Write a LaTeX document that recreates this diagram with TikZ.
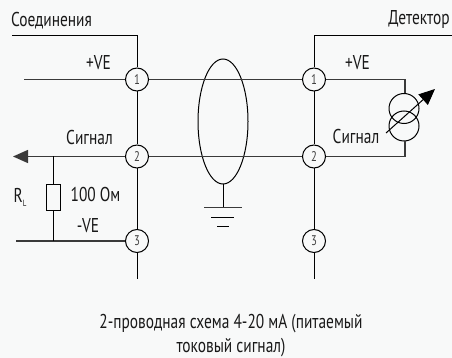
\documentclass[tikz,border=0pt]{standalone}
\usepackage{fontspec}
\usepackage{xcolor}
\setmainfont[FakeStretch=0.77]{PT Sans}
\usetikzlibrary{shapes.geometric,arrows.meta,positioning}
\definecolor{bgpage}{HTML}{F8F9F9}
\definecolor{wirecol}{HTML}{3A3A3A}

\begin{document}
\begin{tikzpicture}[
    x=1pt, y=-1pt,
    wire/.style={draw=wirecol, line width=1.4pt},
    thinwire/.style={draw=black, line width=1pt},
    term/.style={circle, draw=black, line width=1pt, fill=bgpage, minimum size=23pt, inner sep=0pt, font=\fontsize{14}{14}\selectfont, text=black!75},
    lab/.style={inner sep=0pt, font=\fontsize{20}{20}\selectfont, text=black!90},
    sensor/.style={circle, draw=black, line width=1pt, minimum size=30pt, inner sep=0pt},
    outarrow/.style={-{Triangle[length=15pt,width=13pt]}, wire}
]
\path[fill=bgpage] (0,0) rectangle (452,358);
\useasboundingbox (0,0) rectangle (452,358);

% Screen
\node[ellipse, thinwire, minimum width=50pt, minimum height=125pt, inner sep=0pt] (screen) at (223,121.5) {};

% Free ends
\coordinate (leftTopEnd) at (12,35.5);
\coordinate (leftTop) at (137,35.5);
\coordinate (rightTop) at (314,35.5);
\coordinate (rightTopEnd) at (452,35.5);
\coordinate (leftBot) at (137,279);
\coordinate (rightBot) at (314,279);
\coordinate (in1) at (24,79.5);
\coordinate (in2) at (13,156.5);
\coordinate (in3) at (16,241);
\coordinate (det1) at (405,79.5);
\coordinate (det2) at (405,156.5);
\coordinate (rjoin1) at (53,156.5);
\coordinate (rjoin2) at (53,241);

% Terminals
\node[term] (l1) at (137,79.5) {1};
\node[term] (l2) at (137,156.5) {2};
\node[term] (l3) at (137,241) {3};
\node[term] (r1) at (314,79.5) {1};
\node[term] (r2) at (314,156.5) {2};
\node[term] (r3) at (314,241) {3};

% Detector
\node[sensor] (s1) at (404,108.5) {};
\node[sensor] (s2) at (404,126) {};
\coordinate (sStart) at (386,133);
\coordinate (sEnd) at (435,89);

% Load resistor
\node[rectangle, thinwire, fill=bgpage, minimum width=14pt, minimum height=25pt, inner sep=0pt] (rload) at (53,197.5) {};

% Ground
\coordinate (gndTop) at (223,184);
\coordinate (gnd1) at (223,207.5);
\coordinate (gnd1a) at (204,207.5);
\coordinate (gnd1b) at (241.5,207.5);
\coordinate (gnd2a) at (211,217);
\coordinate (gnd2b) at (234,217);
\coordinate (gnd3a) at (217,226.5);
\coordinate (gnd3b) at (229,226.5);

% Wires
\draw[thinwire] (leftTopEnd) -- (leftTop) -- (l1);
\draw[thinwire] (l1) -- (l2);
\draw[thinwire] (l2) -- (l3);
\draw[thinwire] (l3) -- (leftBot);
\draw[thinwire] (rightTopEnd) -- (rightTop) -- (r1);
\draw[thinwire] (r1) -- (r2);
\draw[thinwire] (r2) -- (r3);
\draw[thinwire] (r3) -- (rightBot);
\draw[wire] (in1) -- (l1);
\draw[wire] (l1) -- (r1);
\draw[wire] (r1) -- (det1) -- (det1 |- s1.north);
\draw[outarrow] (l2) -- (in2);
\draw[wire] (l2) -- (r2);
\draw[wire] (r2) -- (det2) -- (det2 |- s2.south);
\draw[wire] (in3) -- (l3);
\draw[thinwire] (rjoin1) -- (rload);
\draw[thinwire] (rload) -- (rjoin2);
\draw[thinwire] (gndTop) -- (gnd1);
\draw[wire] (gnd1a) -- (gnd1b);
\draw[thinwire] (gnd2a) -- (gnd2b);
\draw[thinwire] (gnd3a) -- (gnd3b);
\draw[-{Triangle[length=16pt,width=14pt]}, thinwire] (sStart) -- (sEnd);

% Labels
\node[lab] (conn) at (51.5,21) {Соединения};
\node[lab] (detector) at (419,20) {Детектор};
\node[lab] (veL) at (98.5,63) {+VE};
\node[lab] (veR) at (357.5,63) {+VE};
\node[lab] (sigL) at (89.5,138) {Сигнал};
\node[lab] (sigR) at (356,137) {Сигнал};
\node[lab] (ohm) at (95.5,194) {100 Ом};
\node[lab] (veN) at (88,226) {-VE};
\node[lab] (rl) at (20,197) {R\kern0pt\raisebox{-4pt}{\fontsize{9}{9}\selectfont L}};
\node[lab, align=center, font=\fontsize{20}{24}\selectfont] (caption) at (231,335.5) {2-проводная схема 4-20 мА (питаемый\\токовый сигнал)};

\end{tikzpicture}
\end{document}
